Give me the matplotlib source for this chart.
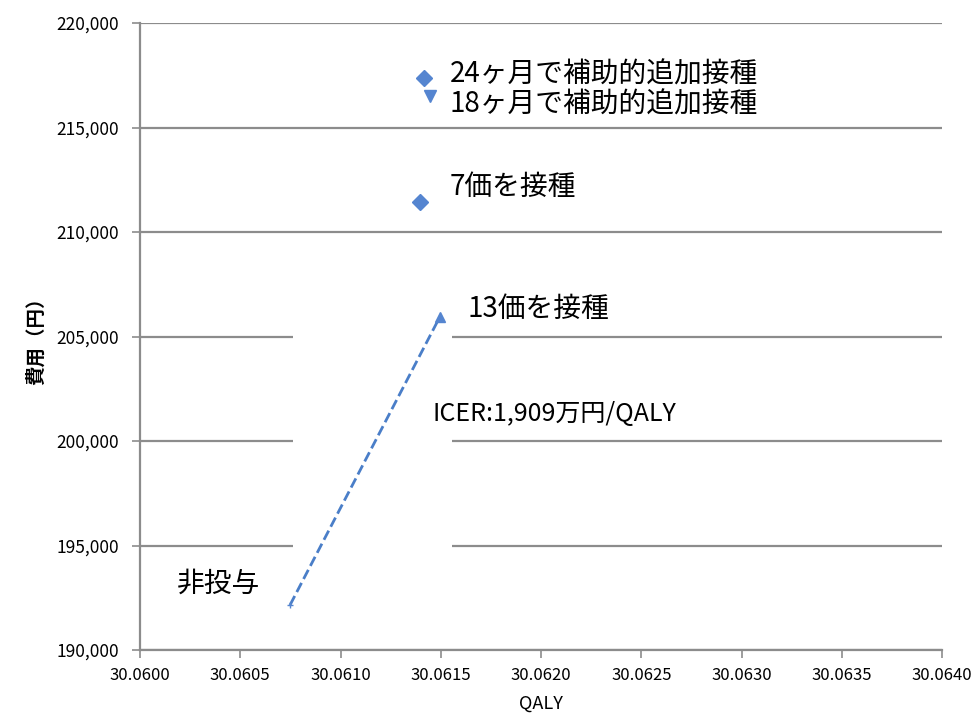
import matplotlib
matplotlib.use("Agg")
import matplotlib.pyplot as plt
from matplotlib.patches import Rectangle
from matplotlib.ticker import FuncFormatter, MultipleLocator

plt.rcParams["font.family"] = ["Noto Sans CJK JP", "DejaVu Sans"]

# strategies: (QALY, cost in yen)
labels = ["24ヶ月で補助的追加接種", "18ヶ月で補助的追加接種", "7価を接種", "13価を接種", "非投与"]
qaly = [30.061416, 30.061446, 30.061396, 30.061496, 30.060748]
cost = [217350, 216500, 211450, 205950, 192150]
markers = ["D", "v", "D", "^", "+"]
msizes = [8, 8, 8, 7, 5]
label_offsets = [(26, 4), (20, -8), (30, 15), (28, 8), (-113, 21)]

icer_text = "ICER:1,909万円/QALY"

BLUE = "#5585D0"
GRID = "#8c8c8c"

fig = plt.figure(figsize=(9.75, 7.17), dpi=100)
ax = fig.add_axes([0.1436, 0.0934, 0.8226, 0.8745])

ax.set_xlim(30.0600, 30.0640)
ax.set_ylim(190000, 220000)
ax.xaxis.set_major_locator(MultipleLocator(0.0005))
ax.yaxis.set_major_locator(MultipleLocator(5000))
ax.xaxis.set_major_formatter(FuncFormatter(lambda v, p: f"{v:.4f}"))
ax.yaxis.set_major_formatter(FuncFormatter(lambda v, p: f"{v:,.0f}"))

ax.grid(axis="y", color=GRID, linewidth=1.6, zorder=0)
ax.set_axisbelow(True)
for side in ["top", "right"]:
    ax.spines[side].set_visible(False)
for side in ["left", "bottom"]:
    ax.spines[side].set_color(GRID)
    ax.spines[side].set_linewidth(1.6)
ax.tick_params(axis="both", color=GRID, width=1.2, length=6)
ax.tick_params(axis="y", labelsize=12.5, pad=9)
ax.tick_params(axis="x", labelsize=12, pad=6)

# white box that hides the gridlines behind the trend line
ax.add_patch(Rectangle((0.191, 0.14), 0.198, 0.38, transform=ax.transAxes,
                       facecolor="white", edgecolor="none", zorder=1))

# dashed line from no vaccination to 13-valent
ax.plot([qaly[4], qaly[3]], [cost[4], cost[3]], linestyle="--", color="#4A7EC8",
        linewidth=2, zorder=2)

for x, y, m, s in zip(qaly, cost, markers, msizes):
    ax.plot(x, y, marker=m, markersize=s, color=BLUE, markeredgecolor=BLUE,
            linestyle="none", zorder=3)

for lab, x, y, off in zip(labels, qaly, cost, label_offsets):
    ax.annotate(lab, (x, y), xytext=off, textcoords="offset pixels",
                fontsize=20, ha="left", va="center", zorder=4)

ax.text(0.365, 0.376, icer_text, transform=ax.transAxes, fontsize=18,
        ha="left", va="center", zorder=4)

ax.set_xlabel("QALY", fontsize=13, labelpad=8)
ax.set_ylabel("費用（円）", fontsize=14, fontweight="bold", labelpad=8)

fig.savefig("out.png", dpi=100)
